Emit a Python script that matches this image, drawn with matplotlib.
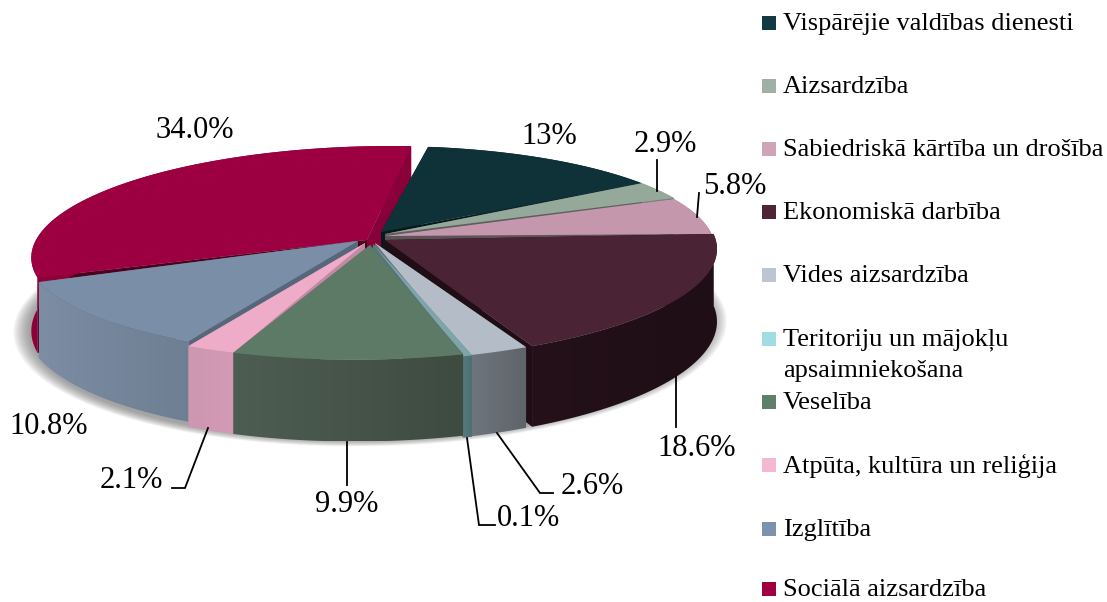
"""Exploded 3D-look pie of budget shares with a hand-set legend column."""

import matplotlib

matplotlib.use("Agg")
import matplotlib.pyplot as plt
import numpy as np
from matplotlib.colors import LinearSegmentedColormap
from matplotlib.patches import Polygon, Rectangle

plt.rcParams["font.family"] = ["Liberation Serif", "DejaVu Serif"]

# data
categories = [
    "Vispārējie valdības dienesti",
    "Aizsardzība",
    "Sabiedriskā kārtība un drošība",
    "Ekonomiskā darbība",
    "Vides aizsardzība",
    "Teritoriju un mājokļu\napsaimniekošana",
    "Veselība",
    "Atpūta, kultūra un reliģija",
    "Izglītība",
    "Sociālā aizsardzība",
]
shares = [13, 2.9, 5.8, 18.6, 2.6, 0.1, 9.9, 2.1, 10.8, 34.0]
share_labels = ["13%", "2.9%", "5.8%", "18.6%", "2.6%", "0.1%", "9.9%", "2.1%", "10.8%", "34.0%"]

# styles
legend_colors = ["#113a43", "#9fb0a5", "#cfa3b8", "#4f2436", "#bcc5d1",
                 "#a0dde3", "#5e7f6c", "#f4b8d2", "#7f92ad", "#9e0040"]
top_colors = ["#0f3239", "#95a99b", "#c497ac", "#4a2334", "#b4bcc8",
              "#7fa5aa", "#5d7a67", "#eeacc8", "#7b8ea8", "#9d0040"]
side_left = ["#0b262c", "#75857a", "#a07c8d", "#24111a", "#70767e",
             "#55797c", "#4e5d52", "#cc97b0", "#7c8da4", "#8f003a"]
side_right = ["#0b262c", "#75857a", "#a07c8d", "#1f0e15", "#5e6469",
              "#4d7073", "#3e4b41", "#d49ab6", "#6e7f93", "#8a0038"]
wall_start = ["#08191d", "#5c5f5c", "#5c5458", "#1f0e15", "#6a7078",
              "#55797c", "#4e5d52", "#c08aa4", "#56677a", "#4d0020"]
wall_end = ["#08191d", "#5c5f5c", "#5c5458", "#1f0e15", "#6a7078",
            "#55797c", "#4e5d52", "#c08aa4", "#56677a", "#86003a"]

# where each slice sits relative to the shared pie (pixels, degrees)
tip_shift = [(9, -8), (13, -6), (13, -4), (13, 0), (3, 3),
             (1, 4), (-2, 5), (-7, 3), (-14, 1), (-5, 0)]
rim_shift = [(0, 0), (0, 0), (0, 1), (2, 1), (-4, 2),
             (0, 2), (0, 0), (0, 0), (0, -5), (6, 0)]
start_trim = [0, 0, 0, 0, 0, 0, 1.0, 0, 0, 5.0]
end_trim = [0, 0, 0, 0, 0, -1.0, 0, 0, 0, 3.6]
draw_order = [9, 0, 1, 2, 3, 4, 5, 8, 7, 6]

START_ANGLE = 82.0
HEIGHT = 72.0


def project(theta_deg):
    """Map a rim angle to pixel coordinates; the pie is seen in perspective."""
    t = np.radians(theta_deg)
    u, v = np.cos(t), np.sin(t)
    w = 1 + 0.12 * v
    x = (342 * u + 60 * v + 372) / w
    y = (-76.5 * v + 240) / w
    return x, y, HEIGHT / w


def gradient_poly(ax, pts, c0, c1, z):
    poly = Polygon(pts, closed=True, facecolor="none", edgecolor="none", zorder=z)
    ax.add_patch(poly)
    cmap = LinearSegmentedColormap.from_list("side", [c0, c1])
    x0, x1 = pts[:, 0].min(), pts[:, 0].max()
    y0, y1 = pts[:, 1].min(), pts[:, 1].max()
    im = ax.imshow(
        np.linspace(0, 1, 64).reshape(1, -1),
        extent=(x0, x1, y1, y0),
        cmap=cmap,
        aspect="auto",
        zorder=z,
    )
    im.set_clip_path(poly)


fig = plt.figure(figsize=(11.07, 6.02), dpi=100, facecolor="white")
ax = fig.add_axes([0, 0, 1, 1])

# soft shadow under the pie
ring = np.linspace(0, 360, 200)
sx, sy, sh = project(ring)
for grow in np.linspace(1.035, 0.99, 16):
    px = 372 + (sx - 372) * grow
    py = 300 + (sy + sh - 300) * grow
    ax.fill(px, py, color="#666666", alpha=0.05, lw=0, zorder=1)

# slices
edges = START_ANGLE - 360 * np.concatenate([[0], np.cumsum(shares)]) / 100
z = 2
for i in draw_order:
    theta = np.linspace(edges[i] - start_trim[i], edges[i + 1] + end_trim[i], 80)
    rx, ry, rh = project(theta)
    tx = 372 + tip_shift[i][0]
    ty = 240 + tip_shift[i][1]
    rx = rx + rim_shift[i][0]
    ry = ry + rim_shift[i][1]

    # cut walls on both ends
    for k, wcol in ((0, wall_start[i]), (-1, wall_end[i])):
        wall = [(tx, ty), (rx[k], ry[k]), (rx[k], ry[k] + rh[k]), (tx, ty + HEIGHT)]
        ax.add_patch(Polygon(wall, closed=True, facecolor=wcol, edgecolor="none", zorder=z))
    z += 1

    # outer side
    side = np.vstack([np.column_stack([rx, ry]),
                      np.column_stack([rx, ry + rh])[::-1]])
    gradient_poly(ax, side, side_left[i], side_right[i], z)
    z += 1

    # top face
    top = np.vstack([[[tx, ty]], np.column_stack([rx, ry])])
    ax.add_patch(Polygon(top, closed=True, facecolor=top_colors[i], edgecolor="none", zorder=z))
    z += 1

# leader lines
leaders = [
    ([657, 657], [160, 191]),
    ([699, 697], [193, 217]),
    ([676, 676], [377, 427]),
    ([497, 540, 553], [433, 493, 493]),
    ([467, 479, 495], [438, 525, 525]),
    ([347, 347], [442, 485]),
    ([208, 185, 172], [428, 488, 488]),
]
for lx, ly in leaders:
    ax.plot(lx, ly, color="black", lw=1.3, zorder=z, solid_joinstyle="miter")

# share labels
label_xy = [(549, 136), (665, 145), (735, 186), (697, 449), (592, 487),
            (528, 518), (347, 505), (131, 480), (49, 426), (195, 130)]
for (lx, ly), txt in zip(label_xy, share_labels):
    ax.text(lx, ly, txt, fontsize=22, ha="center", va="center", color="black", zorder=z + 1)

# legend column
legend_y = [24, 87, 150, 213, 276, 340, 403, 466, 530, 590]
for yy, name, col in zip(legend_y, categories, legend_colors):
    ax.add_patch(Rectangle((762, yy - 8), 14, 14, facecolor=col, edgecolor="none", zorder=z))
    lines = name.split("\n")
    for n, line in enumerate(lines):
        ax.text(783, yy + n * 31, line, fontsize=19.0, ha="left", va="center",
                color="black", zorder=z + 1)

ax.set_xlim(0, 1107)
ax.set_ylim(602, 0)
ax.axis("off")
fig.savefig("out.png", dpi=100, facecolor="white")
